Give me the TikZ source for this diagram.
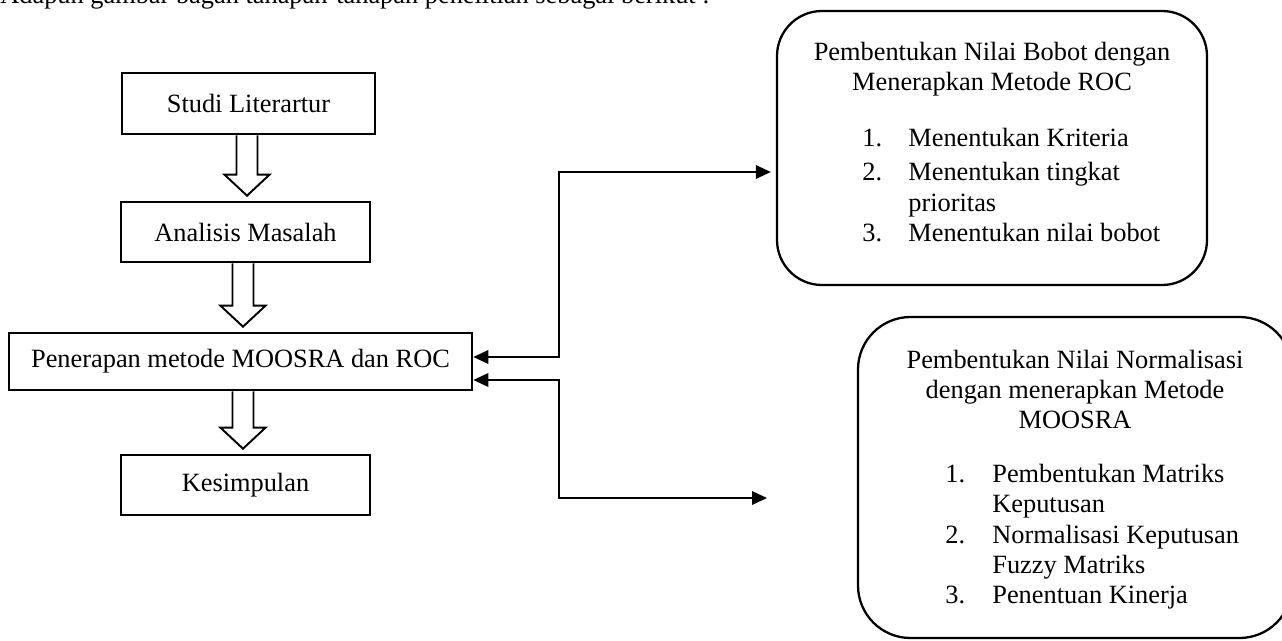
\documentclass[tikz,border=0pt]{standalone}
\usepackage{fontspec}
\setmainfont{Liberation Serif}
\usetikzlibrary{arrows.meta,calc}

\tikzset{
  stage/.style={rectangle, draw, line width=1.5pt, inner sep=0pt},
  panel/.style={rectangle, draw, line width=1.3pt, inner sep=0pt},
  ctr/.style={anchor=base, inner sep=0pt},
  lft/.style={anchor=base west, inner sep=0pt},
  hollow/.style={draw, line width=1.1pt, line join=miter},
  link/.style={{Triangle[length=0.3cm,width=0.27cm]}-{Triangle[length=0.3cm,width=0.27cm]}, line width=1.1pt}
}

% hollow block arrow between two stages
\newcommand{\blockarrow}[2]{%
  \path ($(#1.south)!0.5!(#2.north)$) coordinate (mid);
  \draw[hollow] ($(mid |- #1.south)+(-0.21,0)$) -- ($(mid |- #2.north)+(-0.21,0.52)$)
    -- ($(mid |- #2.north)+(-0.45,0.52)$) -- ($(mid |- #2.north)+(0,0.1)$)
    -- ($(mid |- #2.north)+(0.45,0.52)$) -- ($(mid |- #2.north)+(0.21,0.52)$)
    -- ($(mid |- #1.south)+(0.21,0)$);
}

\begin{document}
\begin{tikzpicture}[font=\fontsize{15}{18}\selectfont]
\clip (0,0) rectangle (25.64,-12.82);

\node[lft] (intro) at (0,-0.08) {Adapun gambar bagan tahapan-tahapan penelitian sebagai berikut :};

% main flow
\node[stage, minimum width=5.06cm, minimum height=1.22cm] (lit) at (4.97,-2.07) {Studi Literartur};
\node[stage, minimum width=4.98cm, minimum height=1.2cm] (ana) at (4.91,-4.64) {Analisis Masalah};
\node[stage, minimum width=9.26cm, minimum height=1.14cm] (pen) at (4.81,-7.23) {Penerapan metode MOOSRA dan ROC};
\node[stage, minimum width=4.98cm, minimum height=1.2cm] (kes) at (4.91,-9.70) {Kesimpulan};

\blockarrow{lit}{ana}
\blockarrow{ana}{pen}
\blockarrow{pen}{kes}

% ROC panel
\node[panel, rounded corners=0.9cm, minimum width=8.6cm, minimum height=5.48cm] (roc) at (19.84,-2.96) {};
\node[ctr] (roct1) at (19.84,-1.22) {Pembentukan Nilai Bobot dengan};
\node[ctr] (roct2) at (19.84,-1.82) {Menerapkan Metode ROC};
\node[lft] (rocn1) at (17.24,-2.94) {1.};
\node[lft] (roci1) at (18.16,-2.94) {Menentukan Kriteria};
\node[lft] (rocn2) at (17.24,-3.60) {2.};
\node[lft] (roci2) at (18.16,-3.60) {Menentukan tingkat};
\node[lft] (roci2b) at (18.16,-4.22) {prioritas};
\node[lft] (rocn3) at (17.24,-4.84) {3.};
\node[lft] (roci3) at (18.16,-4.84) {Menentukan nilai bobot};

% MOOSRA panel
\node[panel, rounded corners=1.05cm, minimum width=8.68cm, minimum height=6.42cm] (moo) at (21.5,-9.55) {};
\node[ctr] (moot1) at (21.5,-7.36) {Pembentukan Nilai Normalisasi};
\node[ctr] (moot2) at (21.5,-7.96) {dengan menerapkan Metode};
\node[ctr] (moot3) at (21.5,-8.56) {MOOSRA};
\node[lft] (moon1) at (18.9,-9.64) {1.};
\node[lft] (mooi1) at (19.84,-9.64) {Pembentukan Matriks};
\node[lft] (mooi1b) at (19.84,-10.24) {Keputusan};
\node[lft] (moon2) at (18.9,-10.86) {2.};
\node[lft] (mooi2) at (19.84,-10.86) {Normalisasi Keputusan};
\node[lft] (mooi2b) at (19.84,-11.46) {Fuzzy Matriks};
\node[lft] (moon3) at (18.9,-12.06) {3.};
\node[lft] (mooi3) at (19.84,-12.06) {Penentuan Kinerja};

\coordinate (mooin) at (15.34,-9.96);

% links to the panels
\draw[link, shorten >=0.1cm] ([yshift=0.09cm]pen.east) -- ++(1.72,0) |- ([yshift=-0.48cm]roc.west);
\draw[link] ([yshift=-0.37cm]pen.east) -- ++(1.72,0) |- (mooin);
\end{tikzpicture}
\end{document}
